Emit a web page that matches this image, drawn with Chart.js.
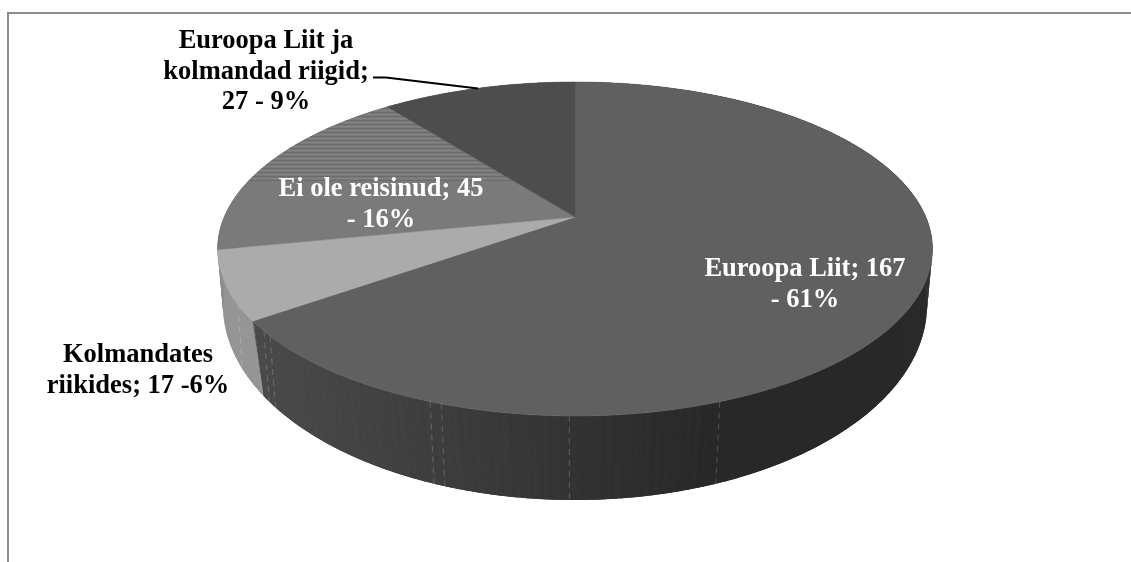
<!DOCTYPE html>
<html>
<head>
<meta charset="utf-8">
<title>Reisimine</title>
<script src="https://cdn.jsdelivr.net/npm/chart.js@4"></script>
<style>
html, body { margin: 0; padding: 0; background: #fff; }
canvas { display: block; }
</style>
</head>
<body>
<canvas id="pie-chart" width="1131" height="562"></canvas>
<script>
// slices clockwise from the top
var categories = ["Euroopa Liit", "Kolmandates riikides", "Ei ole reisinud", "Euroopa Liit ja kolmandad riigid"];
var values = [167, 17, 45, 27];
var topColors = ["#606060", "#ababab", "#7a7a7a", "#4d4d4d"];
var sliceLabels = [
	["Euroopa Liit; 167", "- 61%"],
	["Kolmandates", "riikides; 17 -6%"],
	["Ei ole reisinud; 45", "- 16%"],
	["Euroopa Liit ja", "kolmandad riigid;", "27 - 9%"]
];

// perspective of the disc: c tilts it, a/b/A place the face on the page
var topFace = { cx: 575, c: -0.1916, a: 119.3, b: 217, A: 350.8 };
var bottomFace = { cx: 575, c: -0.15, a: 149.25, b: 275.75, A: 348 };
// light scan marks on the wall, by x where they leave the top face
var seamXs = [238, 264, 270, 430, 441, 569, 720];

function project(face, angle) {
	var u = Math.cos(angle), v = Math.sin(angle);
	var w = face.c * v + 1;
	return { x: face.cx + face.A * u / w, y: (face.a * v + face.b) / w };
}

function sideGrey(i, x) {
	if (i == 0) {
		var t = Math.min(1, Math.max(0, (x - 255) / (725 - 255)));
		return Math.round(0x4c + (0x28 - 0x4c) * t);
	}
	if (i == 1) return 0x96;
	return 0x70;
}

function grey(g) {
	return "rgb(" + g + "," + g + "," + g + ")";
}

function topPath(ctx, arc) {
	ctx.beginPath();
	ctx.moveTo(topFace.cx, topFace.b);
	for (var a = arc.startAngle; a < arc.endAngle; a += 0.01) {
		var p = project(topFace, a);
		ctx.lineTo(p.x, p.y);
	}
	var e = project(topFace, arc.endAngle);
	ctx.lineTo(e.x, e.y);
	ctx.closePath();
}

function sliceStripes(ctx, arc) {
	// the scanned texture at the back of the grey slice
	ctx.save();
	topPath(ctx, arc);
	ctx.clip();
	for (var y = 100; y < 181; y += 2) {
		ctx.fillStyle = y % 4 == 0 ? "#6b6b6b" : "#828282";
		ctx.fillRect(200, y, 400, 1);
	}
	ctx.restore();
}

function wall(ctx, arcs) {
	// base coat so the strips have no white showing between them
	arcs.forEach(function(arc, i) {
		ctx.beginPath();
		for (var a = arc.startAngle; a < arc.endAngle; a += 0.01) {
			var p = project(topFace, a);
			ctx.lineTo(p.x, p.y);
		}
		for (var b = arc.endAngle; b > arc.startAngle; b -= 0.01) {
			var q = project(bottomFace, b);
			ctx.lineTo(q.x, q.y);
		}
		ctx.closePath();
		ctx.fillStyle = grey(i == 0 ? 0x3a : sideGrey(i, 0));
		ctx.fill();
	});
	// strips, back to front
	var strips = [];
	arcs.forEach(function(arc, i) {
		var n = 0;
		for (var a = arc.startAngle; a < arc.endAngle; a += 0.006) {
			strips.push({ a: a, i: i, n: n++, e: Math.min(a + 0.0075, arc.endAngle) });
		}
	});
	strips.sort(function(p, q) { return Math.sin(p.a) - Math.sin(q.a); });
	strips.forEach(function(s) {
		var t0 = project(topFace, s.a), t1 = project(topFace, s.e);
		var b0 = project(bottomFace, s.a), b1 = project(bottomFace, s.e);
		var g = sideGrey(s.i, t0.x);
		// faint ribs in the middle of the wall
		if (s.i == 0 && s.n % 4 == 0 && t0.x > 262 && t0.x < 722) g -= 2;
		ctx.fillStyle = grey(g);
		ctx.beginPath();
		ctx.moveTo(t0.x, t0.y);
		ctx.lineTo(t1.x, t1.y);
		ctx.lineTo(b1.x, b1.y);
		ctx.lineTo(b0.x, b0.y);
		ctx.closePath();
		ctx.fill();
	});
	// scan marks, steeper than the wall edges
	ctx.strokeStyle = "rgba(255,255,255,0.2)";
	ctx.lineWidth = 1;
	ctx.setLineDash([6, 5]);
	seamXs.forEach(function(x) {
		var best = null;
		for (var a = 0.05; a < Math.PI - 0.05; a += 0.002) {
			var p = project(topFace, a);
			if (best === null || Math.abs(p.x - x) < Math.abs(project(topFace, best).x - x)) best = a;
		}
		var t = project(topFace, best), b = project(bottomFace, best);
		ctx.beginPath();
		ctx.moveTo(t.x, t.y);
		ctx.lineTo(t.x + (b.x - t.x) * 0.5, b.y);
		ctx.stroke();
	});
	ctx.setLineDash([]);
}

var pie3d = {
	id: "pie3d",
	beforeDatasetDraw: function(chart, args) {
		var ctx = chart.ctx;
		var arcs = args.meta.data;
		ctx.save();
		wall(ctx, arcs);
		// top faces
		arcs.forEach(function(arc, i) {
			ctx.fillStyle = topColors[i];
			ctx.strokeStyle = topColors[i];
			ctx.lineWidth = 0.5;
			topPath(ctx, arc);
			ctx.fill();
			ctx.stroke();
			if (i == 2) sliceStripes(ctx, arc);
		});
		ctx.restore();
		return false;
	},
	afterDraw: function(chart) {
		var ctx = chart.ctx;
		ctx.save();
		// frame, the right and bottom sides are cropped away
		ctx.strokeStyle = "#8c8c8c";
		ctx.lineWidth = 2;
		ctx.beginPath();
		ctx.moveTo(8, 562);
		ctx.lineTo(8, 13);
		ctx.lineTo(1131, 13);
		ctx.stroke();
		// leader line
		ctx.strokeStyle = "#000";
		ctx.lineWidth = 2;
		ctx.beginPath();
		ctx.moveTo(373, 77.5);
		ctx.lineTo(386, 77.5);
		ctx.lineTo(478, 88.5);
		ctx.stroke();
		// labels
		ctx.font = "bold 26.5px 'Liberation Serif'";
		ctx.textAlign = "center";
		ctx.textBaseline = "alphabetic";
		drawLines(ctx, sliceLabels[0], 805, 276, 31, "#fff");
		drawLines(ctx, sliceLabels[1], 138, 362, 31, "#000");
		drawLines(ctx, sliceLabels[2], 381, 196, 31, "#fff");
		drawLines(ctx, sliceLabels[3], 266, 48, 30.5, "#000");
		ctx.restore();
	}
};

function drawLines(ctx, lines, x, y, step, color) {
	ctx.fillStyle = color;
	lines.forEach(function(line, i) {
		ctx.fillText(line, x, y + i * step);
	});
}

new Chart(document.getElementById("pie-chart"), {
	type: "pie",
	data: {
		labels: categories,
		datasets: [{ data: values, backgroundColor: topColors, borderWidth: 0 }]
	},
	options: {
		responsive: false,
		animation: false,
		plugins: { legend: { display: false }, tooltip: { enabled: false } }
	},
	plugins: [pie3d]
});
</script>
</body>
</html>
